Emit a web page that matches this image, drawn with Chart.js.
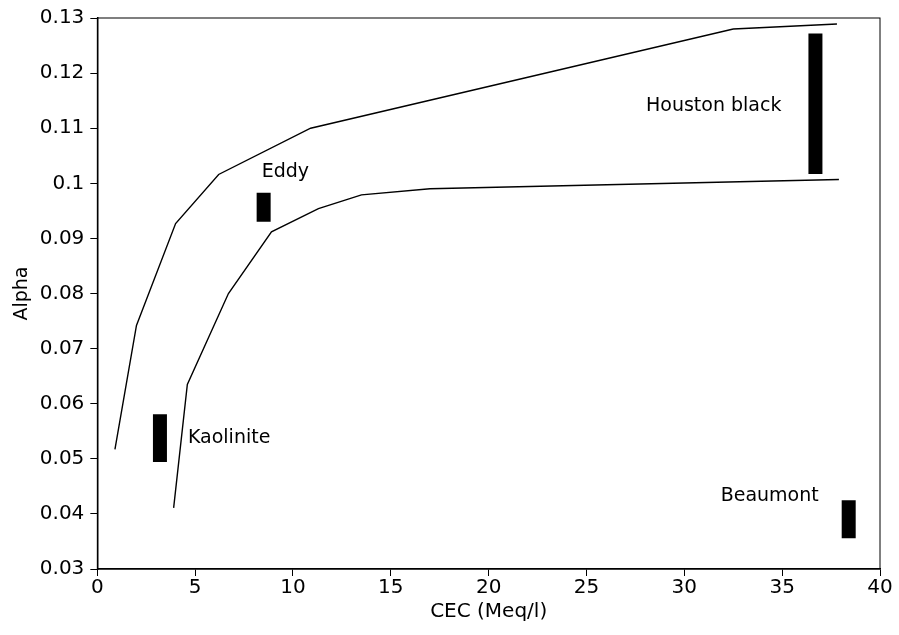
<!DOCTYPE html>
<html>
<head>
<meta charset="utf-8">
<script src="https://cdn.jsdelivr.net/npm/chart.js@4"></script>
<style>
  html, body { margin: 0; padding: 0; background: #fff; }
  #wrap { width: 899px; height: 635px; }
</style>
</head>
<body>
<div id="wrap"><canvas id="alphaChart" width="899" height="635"></canvas></div>
<script>
// upper and lower envelope curves
const upperCEC = [0.9, 2.0, 4.0, 6.2, 10.9, 32.5, 37.8];
const upperAlpha = [0.0517, 0.0742, 0.0927, 0.1016, 0.1100, 0.1280, 0.1289];
const lowerCEC = [3.9, 4.6, 6.7, 8.9, 11.3, 13.5, 17.0, 37.9];
const lowerAlpha = [0.0411, 0.0635, 0.0800, 0.0912, 0.0954, 0.0979, 0.0990, 0.1007];

// measured soils: CEC and alpha range
const soilNames = ['Houston black', 'Eddy', 'Kaolinite', 'Beaumont'];
const soilCEC = [36.7, 8.5, 3.2, 38.4];
const soilAlphaLow = [0.1017, 0.0930, 0.0494, 0.0356];
const soilAlphaHigh = [0.1272, 0.0983, 0.0581, 0.0425];

const xTicks = [0, 5, 10, 15, 20, 25, 30, 35, 40];
const yTicks = [0.03, 0.04, 0.05, 0.06, 0.07, 0.08, 0.09, 0.1, 0.11, 0.12, 0.13];

const FONT = 'DejaVu Sans';

function toPoints(xs, ys) {
    return xs.map((x, i) => ({ x: x, y: ys[i] }));
}

const datasets = [
    { label: 'upper', data: toPoints(upperCEC, upperAlpha), borderColor: '#000', borderWidth: 1.4, pointRadius: 0, showLine: true },
    { label: 'lower', data: toPoints(lowerCEC, lowerAlpha), borderColor: '#000', borderWidth: 1.4, pointRadius: 0, showLine: true },
];
soilNames.forEach((name, i) => {
    datasets.push({
        label: name,
        data: [{ x: soilCEC[i], y: soilAlphaLow[i] }, { x: soilCEC[i], y: soilAlphaHigh[i] }],
        borderColor: '#000',
        borderWidth: 14,
        borderCapStyle: 'butt',
        pointRadius: 0,
        showLine: true,
    });
});

// where each soil name sits relative to its bar (pixels from bar centre)
const labelPlace = {
    'Houston black': { align: 'right', dx: -34, dy: 2, at: 'mid' },
    'Eddy': { align: 'left', dx: -2, dy: -21, at: 'top' },
    'Kaolinite': { align: 'left', dx: 28, dy: 0, at: 'mid' },
    'Beaumont': { align: 'right', dx: -30, dy: -4, at: 'top' },
};

const soilLabels = {
    id: 'soilLabels',
    afterDatasetsDraw(chart) {
        const { ctx, scales } = chart;
        ctx.save();
        ctx.fillStyle = '#000';
        ctx.font = '19px "' + FONT + '"';
        ctx.textBaseline = 'middle';
        soilNames.forEach((name, i) => {
            const p = labelPlace[name];
            const px = scales.x.getPixelForValue(soilCEC[i]);
            const yTop = scales.y.getPixelForValue(soilAlphaHigh[i]);
            const yMid = scales.y.getPixelForValue((soilAlphaHigh[i] + soilAlphaLow[i]) / 2);
            ctx.textAlign = p.align;
            ctx.fillText(name, px + p.dx, (p.at === 'top' ? yTop : yMid) + p.dy);
        });
        ctx.restore();
    }
};

const frame = {
    id: 'frame',
    afterDraw(chart) {
        const a = chart.chartArea;
        const ctx = chart.ctx;
        ctx.save();
        ctx.strokeStyle = '#000';
        ctx.lineWidth = 1;
        ctx.strokeRect(a.left, a.top, a.right - a.left, a.bottom - a.top);
        ctx.restore();
    }
};

new Chart(document.getElementById('alphaChart'), {
    type: 'scatter',
    data: { datasets: datasets },
    options: {
        responsive: false,
        animation: false,
        layout: { padding: { top: 6, right: 19, left: 11, bottom: 11 } },
        plugins: { legend: { display: false }, tooltip: { enabled: false } },
        scales: {
            x: {
                type: 'linear',
                min: 0, max: 40,
                afterBuildTicks: (s) => { s.ticks = xTicks.map(v => ({ value: v })); },
                ticks: { color: '#000', font: { family: FONT, size: 20 }, padding: 0, maxRotation: 0 },
                grid: { drawOnChartArea: false, tickLength: 7, color: '#000' },
                border: { color: '#000', width: 1.5 },
                title: { display: true, text: 'CEC (Meq/l)', color: '#000', font: { family: FONT, size: 20 }, padding: { top: 0, bottom: 0 } },
            },
            y: {
                type: 'linear',
                min: 0.03, max: 0.13,
                afterBuildTicks: (s) => { s.ticks = yTicks.map(v => ({ value: v })); },
                ticks: { color: '#000', font: { family: FONT, size: 20 }, padding: 6, callback: (v) => String(Math.round(v * 100) / 100) },
                grid: { drawOnChartArea: false, tickLength: 7, color: '#000' },
                border: { color: '#000', width: 1.5 },
                title: { display: true, text: 'Alpha', color: '#000', font: { family: FONT, size: 19 }, padding: { top: 0, bottom: 0 } },
            },
        },
    },
    plugins: [soilLabels, frame],
});
</script>
</body>
</html>
